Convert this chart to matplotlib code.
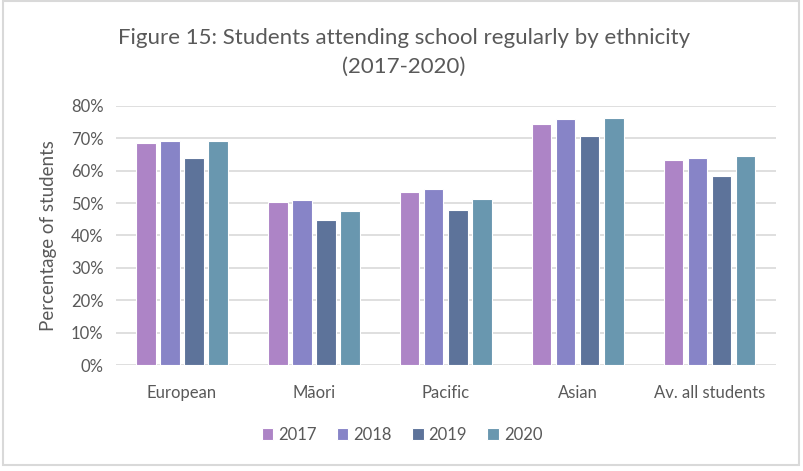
import matplotlib.pyplot as plt
import numpy as np
from matplotlib.patches import Rectangle

plt.rcParams['font.family'] = ['Lato', 'DejaVu Sans']

categories = ["European", "Māori", "Pacific", "Asian", "Av. all students"]
years = ["2017", "2018", "2019", "2020"]
values = {
    "2017": [68.6, 50.4, 53.5, 74.4, 63.2],
    "2018": [69.0, 50.8, 54.4, 76.0, 64.0],
    "2019": [63.9, 44.7, 47.8, 70.6, 58.3],
    "2020": [69.0, 47.5, 51.2, 76.1, 64.5],
}
colors = ["#AD84C6", "#8784C7", "#5D739A", "#6997AF"]
text_color = "#595959"

fig = plt.figure(figsize=(8.04, 4.71), dpi=100)
ax = fig.add_axes([0.1443, 0.2244, 0.8207, 0.5512])

x = np.arange(len(categories))
step = 0.182
width = 0.145
for i, yr in enumerate(years):
    ax.bar(x + (i - 1.5) * step, np.array(values[yr]) / 100, width,
           color=colors[i], edgecolor="white", linewidth=0.8, label=yr, zorder=3)

ax.set_xlim(-0.5, len(categories) - 0.5)
ax.set_ylim(0, 0.8)
ax.set_yticks(np.arange(0, 0.81, 0.1))
ax.set_yticklabels([f"{int(round(v * 100))}%" for v in np.arange(0, 0.81, 0.1)])
ax.set_xticks(x)
ax.set_xticklabels(categories)
ax.tick_params(axis="both", length=0, colors=text_color, labelsize=12)
ax.tick_params(axis="x", pad=14)
ax.tick_params(axis="y", pad=9)
ax.grid(axis="y", color="#D9D9D9", linewidth=1.2, zorder=0)
for s in ax.spines.values():
    s.set_visible(False)

ax.set_ylabel("Percentage of students", color=text_color, fontsize=13.5, labelpad=10)

fig.text(0.502, 0.92, "Figure 15: Students attending school regularly by ethnicity",
         ha="center", va="center", fontsize=16, color=text_color)
fig.text(0.502, 0.857, "(2017-2020)", ha="center", va="center", fontsize=16, color=text_color)

leg = ax.legend(loc="center", bbox_to_anchor=(0.5, 0.077), bbox_transform=fig.transFigure,
                ncol=4, frameon=False, handlelength=0.7, handleheight=0.7,
                handletextpad=0.3, columnspacing=1.2, fontsize=12)
for t in leg.get_texts():
    t.set_color(text_color)

fig.patches.append(Rectangle((0.004, 0.012), 0.99, 0.985, transform=fig.transFigure,
                             fill=False, edgecolor="#D9D9D9", linewidth=1.5))

fig.savefig("out.png", dpi=100)
